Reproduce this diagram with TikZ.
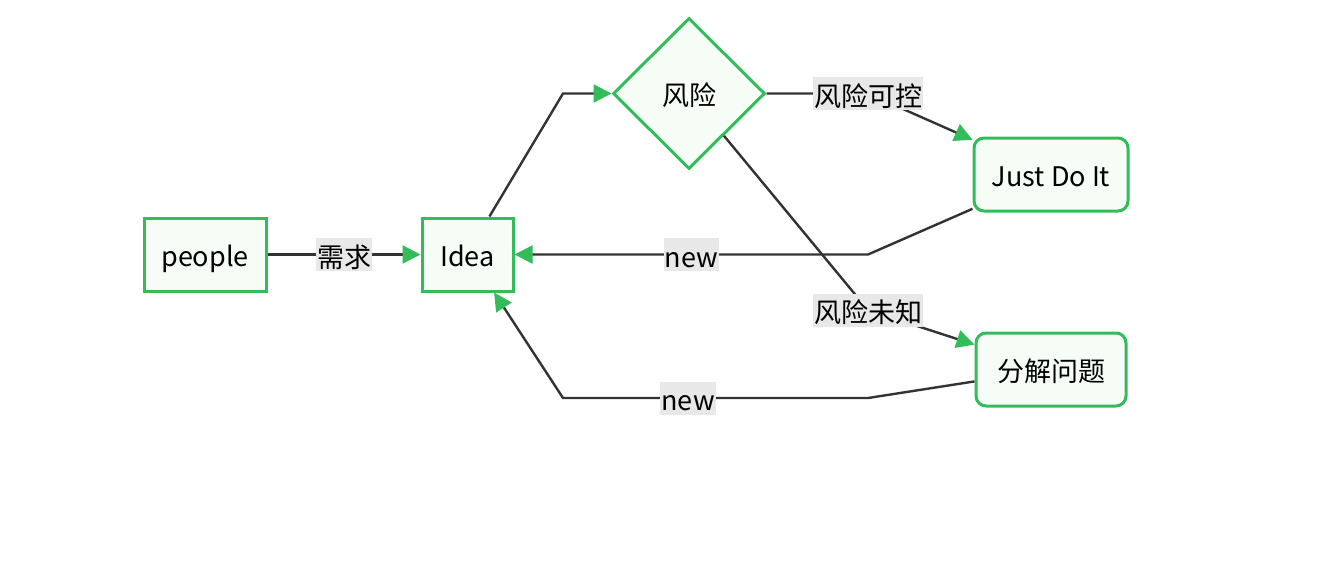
\documentclass[tikz,border=0pt]{standalone}
\usepackage{fontspec}
\setmainfont{Noto Sans CJK SC}
\usetikzlibrary{arrows.meta,shapes.geometric}
\definecolor{knotgreen}{RGB}{50,189,90}
\definecolor{knotfill}{RGB}{246,253,247}
\definecolor{linegray}{RGB}{51,51,51}
\definecolor{lblgray}{RGB}{232,232,232}
\tikzset{
  box/.style={draw=knotgreen,fill=knotfill,line width=1.5pt,minimum height=36.5pt,inner sep=0pt,text height=12pt,text depth=0pt,font=\fontsize{13.5}{15}\selectfont},
  rbox/.style={box,rounded corners=5pt},
  raute/.style={box,diamond,minimum width=76pt,minimum height=75.5pt,aspect=1},
  lbl/.style={fill=lblgray,inner sep=0.5pt,text height=14pt,text depth=1.5pt,font=\fontsize{13.5}{15}\selectfont},
  pfeil/.style={draw=linegray,line width=1.2pt,-{Triangle[length=9pt,width=9pt,color=knotgreen]}}
}
\begin{document}
\begin{tikzpicture}[x=0.5pt,y=-0.5pt]
       \useasboundingbox (0,0) rectangle (1320,562);
       % Knoten
       \node[box,minimum width=61pt] (people) at (205,254.5) {people};
       \node[box,minimum width=45.5pt] (idea) at (467.5,254.5) {Idea};
       \node[raute] (risk) at (689,93.5) {风险};
       \node[rbox,minimum width=77pt] (jdi) at (1051,174.5) {Just Do It};
       \node[rbox,minimum width=75pt] (split) at (1051,369.5) {分解问题};
       % Knickpunkte
       \coordinate (k1) at (563,93.5);
       \coordinate (k2) at (868,93.5);
       \coordinate (k3) at (868,310);
       \coordinate (k4) at (868,254.5);
       \coordinate (k5) at (868,398);
       \coordinate (k6) at (563,398);
       % Kanten
       \draw[pfeil] (people) -- node[lbl] {需求} (idea);
       \draw[pfeil] (idea.60) -- (k1) -- (risk.west);
       \draw[pfeil] (risk.east) -- (k2) node[lbl] {风险可控} -- (jdi);
       \draw[pfeil] (risk) -- (k3) node[lbl] {风险未知} -- (split);
       \draw[pfeil] (jdi) -- (k4) -- node[lbl] {new} (idea);
       \draw[pfeil] (split) -- (k5) -- node[lbl,pos=0.59] {new} (k6) -- (idea.-55);
     \end{tikzpicture}
\end{document}
